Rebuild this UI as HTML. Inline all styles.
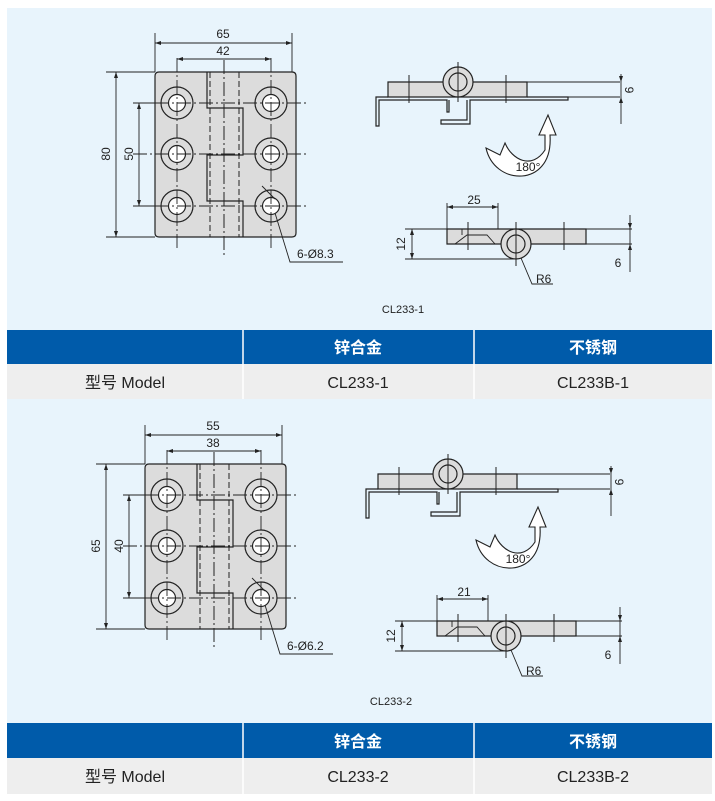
<!DOCTYPE html>
<html><head><meta charset="utf-8"><style>
body{margin:0;background:#fff;width:715px;height:801px;overflow:hidden;font-family:"Liberation Sans","Noto Sans CJK SC",sans-serif}
svg{position:absolute;left:0;top:0}
</style></head><body>
<svg width="715" height="801" viewBox="0 0 715 801" font-family="Liberation Sans, Noto Sans CJK SC, sans-serif">
<defs>
<g id="front">
 <path d="M159,72 H292 Q296,72 296,76 V233 Q296,237 292,237 H159 Q155,237 155,233 V76 Q155,72 159,72Z" fill="#dcdcdc" stroke="#222" stroke-width="1.2"/>
 <path d="M207,72 V108 H243 V155 H207 V201 H243 V237" fill="none" stroke="#222" stroke-width="1.2"/>
 <path d="M210,72 V237 M239,72 V237" stroke="#222" stroke-dasharray="6,3" fill="none"/>
 <path d="M224,60 V258" stroke="#222" stroke-dasharray="14,3,2,3"/>
 <g fill="none" stroke="#222" stroke-width="1.2">
  <circle cx="177" cy="103" r="16"/><circle cx="177" cy="103" r="8.5" fill="#fff"/>
  <circle cx="177" cy="154" r="16"/><circle cx="177" cy="154" r="8.5" fill="#fff"/>
  <circle cx="177" cy="206" r="16"/><circle cx="177" cy="206" r="8.5" fill="#fff"/>
  <circle cx="271" cy="103" r="16"/><circle cx="271" cy="103" r="8.5" fill="#fff"/>
  <circle cx="271" cy="154" r="16"/><circle cx="271" cy="154" r="8.5" fill="#fff"/>
  <circle cx="271" cy="206" r="16"/><circle cx="271" cy="206" r="8.5" fill="#fff"/>
 </g>
 <g stroke="#222" stroke-width="0.9" stroke-dasharray="14,3,2,3">
  <path d="M133,103 H307 M133,154 H307 M133,206 H307 M177,58 V250 M271,58 V250"/>
 </g>
 <g stroke="#222" stroke-width="0.9" fill="none">
  <path d="M155,72 V33 M292,72 V33 M155,43 H292"/>
  <path d="M177,59 H271"/>
  <path d="M106,72 H155 M106,237 H155 M116,72 V237"/>
  <path d="M133,103 H160 M133,206 H160 M139,103 V206"/>
  <path d="M262,186 L275,199 M275,213 L290,262 H343"/>
 </g>
 <g fill="#222">
  <path d="M155,43 l6,-2 v4z M292,43 l-6,-2 v4z M177,59 l6,-2 v4z M271,59 l-6,-2 v4z"/>
  <path d="M116,72 l-2,6 h4z M116,237 l-2,-6 h4z M139,103 l-2,6 h4z M139,206 l-2,-6 h4z"/>
 </g>
 <!-- top side view -->
 <path d="M388,82 H527 V97 H388Z" fill="#dcdcdc" stroke="#222" stroke-width="1.2"/>
 <path d="M527,82 H620 M527,97 H620" stroke="#222" stroke-width="0.9"/>
 <path d="M527,97 H568 V100 H470 V124 H441 V120 H467 V100 M388,97 H376 V126 H379 V100 H447 V112 H449 V100" fill="none" stroke="#222" stroke-width="1.2"/>
 <circle cx="458" cy="82" r="15" fill="#dcdcdc" stroke="#222" stroke-width="1.2"/>
 <circle cx="458" cy="82" r="9" fill="none" stroke="#222" stroke-width="1.2"/>
 <path d="M458,62 V102 M409,75 V103 M506,75 V103" stroke="#222" stroke-width="1"/>
 <path d="M621,74 V124" stroke="#222" stroke-width="0.9"/>
 <path d="M621,82 l-2,-6 h4z M621,97 l-2,6 h4z" fill="#222"/>
 <!-- rotate arrow -->
 <path d="M486,148 L500,155 L505,143 C512,160 532,170 545,150 L545,135 L539,135 L548,115 L556,135 L550,135 C552,165 535,175 522,176 C505,177 490,166 486,148Z" fill="#fff" stroke="#222" stroke-width="1.1"/>
 <!-- bottom side view -->
 <path d="M447,229 H586 V244 H447Z" fill="#dcdcdc" stroke="#222" stroke-width="1.2"/>
 <path d="M455,244 L467,235 H487 L495,244 M462,235 V229" fill="none" stroke="#222" stroke-width="0.9"/>
 <circle cx="516" cy="244" r="15" fill="#dcdcdc" stroke="#222" stroke-width="1.2"/>
 <circle cx="516" cy="244" r="9" fill="none" stroke="#222" stroke-width="1.2"/>
 <path d="M516,222 V266 M468,222 V250 M564,222 V250" stroke="#222" stroke-width="1"/>
 <g stroke="#222" stroke-width="0.9" fill="none">
  <path d="M586,229 H632 M586,244 H632 M630,215 V272"/>
  <path d="M447,229 V203 M498,229 V203 M447,207 H498"/>
  <path d="M405,229 H447 M405,259 H516 M412,229 V259"/>
  <path d="M521,258 L532,284 H553"/>
 </g>
 <path d="M447,207 l6,-2 v4z M498,207 l-6,-2 v4z M412,229 l-2,6 h4z M412,259 l-2,-6 h4z M630,229 l-2,-6 h4z M630,244 l-2,6 h4z" fill="#222"/>
</g>
</defs>
<rect x="7" y="8" width="705" height="786" fill="#e8f4fc"/>
<use href="#front"/>
<use href="#front" transform="translate(-10,392)"/>
<g font-size="12" fill="#222">
 <text x="223" y="38" text-anchor="middle">65</text>
 <text x="223" y="55" text-anchor="middle">42</text>
 <text transform="translate(110,154) rotate(-90)" text-anchor="middle">80</text>
 <text transform="translate(133,154) rotate(-90)" text-anchor="middle">50</text>
 <text x="297" y="258">6-Ø8.3</text>
 <text transform="translate(625,90) rotate(90)" text-anchor="middle">9</text>
 <text x="528" y="171" text-anchor="middle">180°</text>
 <text x="474" y="204" text-anchor="middle">25</text>
 <text transform="translate(405,244) rotate(-90)" text-anchor="middle">12</text>
 <text x="618" y="267" text-anchor="middle">6</text>
 <text x="536" y="283">R6</text>
 <text x="213" y="430" text-anchor="middle">55</text>
 <text x="213" y="447" text-anchor="middle">38</text>
 <text transform="translate(100,546) rotate(-90)" text-anchor="middle">65</text>
 <text transform="translate(123,546) rotate(-90)" text-anchor="middle">40</text>
 <text x="287" y="650">6-Ø6.2</text>
 <text transform="translate(615,482) rotate(90)" text-anchor="middle">9</text>
 <text x="518" y="563" text-anchor="middle">180°</text>
 <text x="464" y="596" text-anchor="middle">21</text>
 <text transform="translate(395,636) rotate(-90)" text-anchor="middle">12</text>
 <text x="608" y="659" text-anchor="middle">6</text>
 <text x="526" y="675">R6</text>
 <text x="403" y="313" text-anchor="middle" font-size="11">CL233-1</text>
 <text x="391" y="705" text-anchor="middle" font-size="11">CL233-2</text>
</g>
<!-- tables -->
<g>
 <rect x="7" y="330" width="705" height="34" fill="#005baa"/>
 <rect x="7" y="364" width="705" height="35" fill="#eeeeee"/>
 <path d="M243,330 V399 M474,330 V399" stroke="#fff" stroke-width="1.5"/>
 <rect x="7" y="723" width="705" height="35" fill="#005baa"/>
 <rect x="7" y="758" width="705" height="36" fill="#eeeeee"/>
 <path d="M243,723 V794 M474,723 V794" stroke="#fff" stroke-width="1.5"/>
</g>
<g font-size="16" text-anchor="middle">
 <text x="358" y="353" fill="#fff" font-weight="bold">锌合金</text>
 <text x="593" y="353" fill="#fff" font-weight="bold">不锈钢</text>
 <text x="125" y="388" fill="#222">型号 Model</text>
 <text x="358" y="388" fill="#222">CL233-1</text>
 <text x="593" y="388" fill="#222">CL233B-1</text>
 <text x="358" y="747" fill="#fff" font-weight="bold">锌合金</text>
 <text x="593" y="747" fill="#fff" font-weight="bold">不锈钢</text>
 <text x="125" y="782" fill="#222">型号 Model</text>
 <text x="358" y="782" fill="#222">CL233-2</text>
 <text x="593" y="782" fill="#222">CL233B-2</text>
</g>
</svg>
</body></html>
